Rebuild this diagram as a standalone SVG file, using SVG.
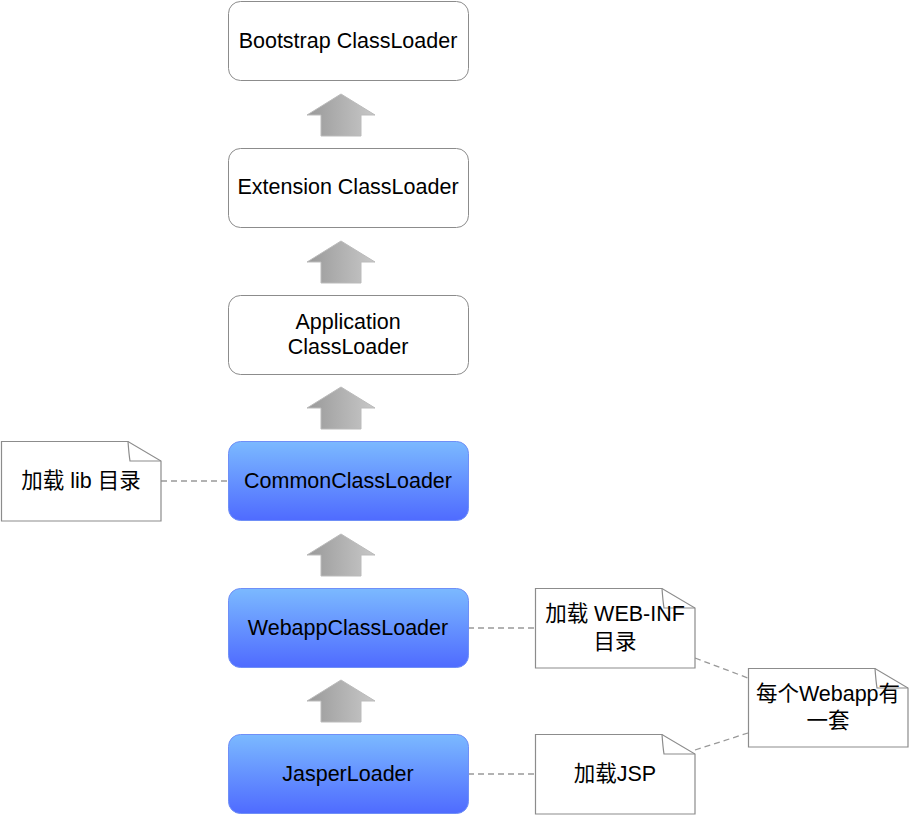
<svg xmlns="http://www.w3.org/2000/svg" width="909" height="816" viewBox="0 0 909 816">
<style>
.box{fill:#fff;stroke:#8c8c8c;stroke-width:1}
.blue{fill:url(#bg);stroke:#6f8ff7;stroke-width:1}
.note{fill:#fff;stroke:#8c8c8c;stroke-width:1.2}
.fold{fill:none;stroke:#8c8c8c;stroke-width:1.2}
.t{font-family:"Liberation Sans","Noto Sans CJK SC",Arial,sans-serif;font-size:21.5px;fill:#000;text-anchor:middle;dominant-baseline:central}
.arr{fill:url(#ag);stroke:#bbbbbb;stroke-width:1}
.dash{stroke:#999;stroke-width:1.3;stroke-dasharray:6 4;fill:none}
</style>
<defs>
<linearGradient id="bg" x1="0" y1="0" x2="0" y2="1">
<stop offset="0" stop-color="#7bb9ff"/>
<stop offset="1" stop-color="#4f6bff"/>
</linearGradient>
<linearGradient id="ag" x1="0" y1="0" x2="1" y2="0">
<stop offset="0" stop-color="#999"/>
<stop offset="1" stop-color="#c8c8c8"/>
</linearGradient>
<path id="arrow" d="M0,0 L34,21 L20,21 L20,42 L-20,42 L-20,21 L-34,21 Z"/>
</defs>
<g id="connectors">
<use href="#arrow" class="arr" x="341" y="94"/>
<use href="#arrow" class="arr" x="341" y="241"/>
<use href="#arrow" class="arr" x="341" y="387"/>
<use href="#arrow" class="arr" x="341" y="534"/>
<use href="#arrow" class="arr" x="341" y="680"/>
<line class="dash" x1="161" y1="481" x2="228" y2="481"/>
<line class="dash" x1="468" y1="628" x2="535" y2="628"/>
<line class="dash" x1="468" y1="774" x2="535" y2="774"/>
<line class="dash" x1="695" y1="658" x2="748" y2="678"/>
<line class="dash" x1="695" y1="750" x2="748" y2="733"/>
</g>
<g id="bootstrap">
<rect class="box" x="228.5" y="1.5" width="240" height="79" rx="12"/>
<text class="t" x="348" y="41">Bootstrap ClassLoader</text>
</g>
<g id="extension">
<rect class="box" x="228.5" y="148.5" width="240" height="79" rx="12"/>
<text class="t" x="348" y="187">Extension ClassLoader</text>
</g>
<g id="application">
<rect class="box" x="228.5" y="295.5" width="240" height="79" rx="12"/>
<text class="t" x="348" y="322">Application</text>
<text class="t" x="348" y="347">ClassLoader</text>
</g>
<g id="common">
<rect class="blue" x="228.5" y="441.5" width="240" height="79" rx="12"/>
<text class="t" x="348" y="481">CommonClassLoader</text>
</g>
<g id="webapp">
<rect class="blue" x="228.5" y="588.5" width="240" height="79" rx="12"/>
<text class="t" x="348" y="628">WebappClassLoader</text>
</g>
<g id="jasper">
<rect class="blue" x="228.5" y="734.5" width="240" height="79" rx="12"/>
<text class="t" x="348" y="774">JasperLoader</text>
</g>
<g id="note-lib">
<path class="note" d="M1.5,441.5 H128 L161,461 V521 H1.5 Z"/>
<path class="fold" d="M128,441.5 Q129,455 130,461 H161"/>
<text class="t" x="81" y="481">加载 lib 目录</text>
</g>
<g id="note-webinf">
<path class="note" d="M535.5,588.5 H662 L695,608 V668 H535.5 Z"/>
<path class="fold" d="M662,588.5 Q663,602 664,608 H695"/>
<text class="t" x="615" y="614">加载 WEB-INF</text>
<text class="t" x="615" y="642">目录</text>
</g>
<g id="note-jsp">
<path class="note" d="M535.5,734.5 H662 L695,754 V814 H535.5 Z"/>
<path class="fold" d="M662,734.5 Q663,748 664,754 H695"/>
<text class="t" x="615" y="774">加载JSP</text>
</g>
<g id="note-perwebapp">
<path class="note" d="M748.5,668.5 H875 L908,688 V747 H748.5 Z"/>
<path class="fold" d="M875,668.5 Q876,682 877,688 H908"/>
<text class="t" x="828" y="694">每个Webapp有</text>
<text class="t" x="828" y="721">一套</text>
</g>
</svg>
